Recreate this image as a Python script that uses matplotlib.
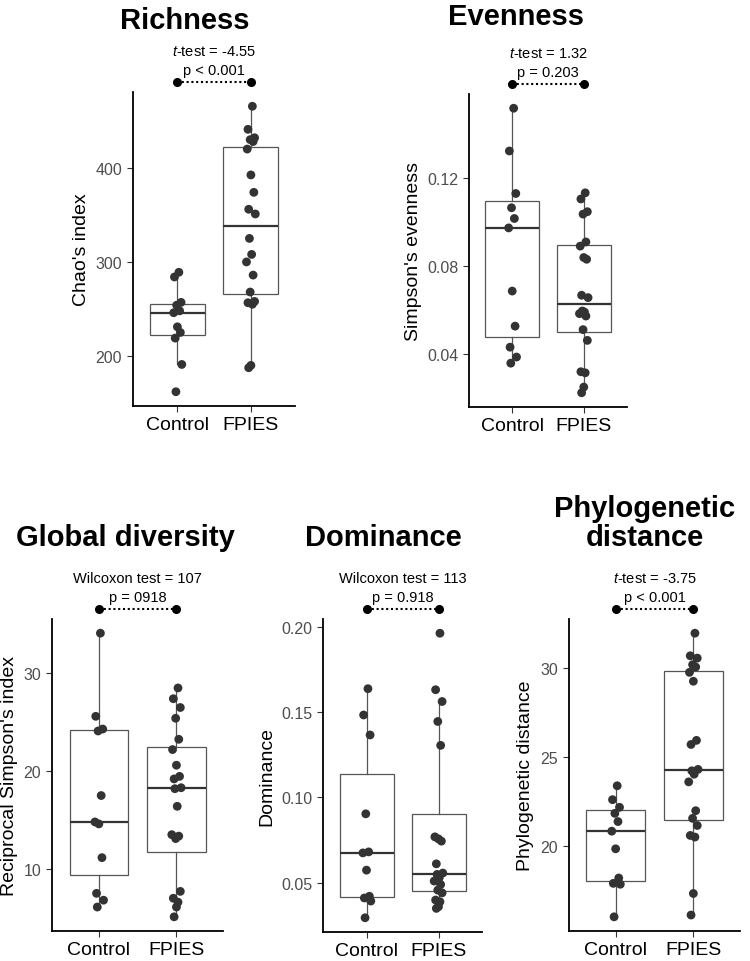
import matplotlib
matplotlib.use("Agg")
import matplotlib.pyplot as plt
import matplotlib.transforms as mtransforms
import numpy as np

plt.rcParams['font.family'] = ['Liberation Sans', 'DejaVu Sans']
plt.rcParams['mathtext.fontset'] = 'custom'
plt.rcParams['mathtext.rm'] = 'Liberation Sans'
plt.rcParams['mathtext.it'] = 'Liberation Sans:italic'

# ---------------- data ----------------
groups = ["Control", "FPIES"]

richness_control = [289, 284, 257, 254, 248, 246, 231, 225, 219, 191, 162]
richness_fpies = [465.5, 441, 432, 430, 428, 420, 392.5, 374, 356, 351, 325, 308,
                  300, 286, 268, 258, 256.6, 255, 190, 187.5]

evenness_control = [0.152, 0.1325, 0.1131, 0.1066, 0.1017, 0.0974, 0.0686, 0.0526,
                    0.0430, 0.0385, 0.0357]
evenness_fpies = [0.1134, 0.1106, 0.1048, 0.1037, 0.0910, 0.0891, 0.0839, 0.0831,
                  0.0667, 0.0656, 0.0595, 0.0590, 0.0583, 0.0572, 0.0510, 0.0461,
                  0.0318, 0.0313, 0.0248, 0.0222]

recip_control = [34.1, 25.6, 24.3, 24.1, 17.5, 14.8, 14.6, 11.15, 7.5, 6.8, 6.1]
recip_fpies = [28.5, 27.4, 26.5, 25.4, 23.25, 22.2, 20.6, 19.46, 19.2, 18.3, 18.2,
               16.4, 13.5, 13.35, 13.1, 7.7, 7.0, 6.6, 6.1, 5.1]

dominance_control = [0.1636, 0.1482, 0.1365, 0.0903, 0.0680, 0.0674, 0.0573, 0.0420,
                     0.0410, 0.0392, 0.0294]
dominance_fpies = [0.1961, 0.1630, 0.1561, 0.1444, 0.1304, 0.0768, 0.0756, 0.0743,
                   0.0610, 0.0556, 0.0548, 0.0528, 0.0509, 0.0489, 0.0456, 0.0440,
                   0.0398, 0.0388, 0.0359, 0.0349]

phylo_control = [23.38, 22.6, 22.17, 21.83, 21.37, 20.83, 19.84, 18.2, 17.9, 17.85, 16.02]
phylo_fpies = [31.95, 30.68, 30.55, 30.18, 30.05, 29.75, 29.25, 25.93, 25.7, 24.3,
               24.22, 24.03, 23.6, 21.98, 21.55, 21.15, 20.59, 20.5, 17.33, 16.12]

titles = ["Richness", "Evenness", "Global diversity", "Dominance", "Phylogenetic\ndistance"]
ylabels = ["Chao's index", "Simpson's evenness", "Reciprocal Simpson's index",
           "Dominance", "Phylogenetic distance"]
stat_lines = [r"$\mathit{t}$-test = -4.55", r"$\mathit{t}$-test = 1.32",
              "Wilcoxon test = 107", "Wilcoxon test = 113", r"$\mathit{t}$-test = -3.75"]
p_lines = ["p < 0.001", "p = 0.203", "p = 0918", "p = 0.918", "p < 0.001"]
yticks = [[200, 300, 400], [0.04, 0.08, 0.12], [10, 20, 30],
          [0.05, 0.10, 0.15, 0.20], [20, 25, 30]]
ytick_labels = [["200", "300", "400"], ["0.04", "0.08", "0.12"], ["10", "20", "30"],
                ["0.05", "0.10", "0.15", "0.20"], ["20", "25", "30"]]

# fixed horizontal jitter pattern (positions only)
JITTER = [0.02, -0.04, 0.05, -0.01, 0.03, -0.05, 0.0, 0.04, -0.03, 0.06,
          -0.02, 0.01, -0.06, 0.03, -0.01, 0.05, -0.04, 0.02, 0.0, -0.03]

datasets = [(richness_control, richness_fpies), (evenness_control, evenness_fpies),
            (recip_control, recip_fpies), (dominance_control, dominance_fpies),
            (phylo_control, phylo_fpies)]

# ---------------- layout (pixels) ----------------
W, H = 750, 962
fig = plt.figure(figsize=(W / 100, H / 100), dpi=100)
fig.patch.set_facecolor("white")

panels = [(133.3, 295, 93, 407), (469.3, 626.7, 95, 408), (52.3, 223, 620, 932),
          (323.3, 481.7, 620, 933), (569, 740, 620, 932)]
# (center x, baseline y) of titles in pixels
title_pos = [(185, 29), (516, 25), (125, 546), (383, 546), (645, 546)]
ylabel_x = [81, 413, 10, 267, 525]

box_col = "#555555"
pt_col = "#333333"

for i, ((x0, x1, yt, yb), (ctrl, fp)) in enumerate(zip(panels, datasets)):
    ax = fig.add_axes([x0 / W, 1 - yb / H, (x1 - x0) / W, (yb - yt) / H])
    ax.boxplot([ctrl, fp], positions=[1, 2], widths=0.75, showfliers=False,
               whis=1.5, patch_artist=True, showcaps=False,
               boxprops=dict(facecolor="white", edgecolor=box_col, linewidth=0.9),
               whiskerprops=dict(color=box_col, linewidth=0.9),
               medianprops=dict(color="#333333", linewidth=1.6), zorder=2)
    for g, vals in enumerate([ctrl, fp]):
        xs = [g + 1 + JITTER[k] for k in range(len(vals))]
        ax.scatter(xs, vals, s=40, color=pt_col, edgecolors="none", zorder=3)
    allv = list(ctrl) + list(fp)
    lo, hi = min(allv), max(allv)
    pad = 0.05 * (hi - lo)
    ax.set_ylim(lo - pad, hi + pad)
    ax.set_xlim(0.4, 2.6)
    ax.set_xticks([1, 2])
    ax.set_xticklabels(groups)
    ax.set_yticks(yticks[i])
    ax.set_yticklabels(ytick_labels[i])
    for s in ["top", "right"]:
        ax.spines[s].set_visible(False)
    for s in ["left", "bottom"]:
        ax.spines[s].set_linewidth(1.3)
        ax.spines[s].set_color("black")
    ax.tick_params(axis="y", length=4, width=0.8, color="#333333", pad=4,
                   labelsize=11.5, labelcolor="#4D4D4D")
    ax.tick_params(axis="x", length=4, width=0.8, color="#333333", pad=3,
                   labelsize=14, labelcolor="black")
    ax.set_facecolor("white")

    # significance bracket above the panel
    trans = mtransforms.blended_transform_factory(ax.transData, ax.transAxes)
    off = mtransforms.ScaledTranslation(0, 10 / 100, fig.dpi_scale_trans)
    ax.plot([1, 2], [1, 1], transform=trans + off, clip_on=False, color="black",
            linestyle=(0, (1, 1.3)), linewidth=1.5, marker="o", markersize=5.5,
            zorder=5)
    off2 = mtransforms.ScaledTranslation(0, 22 / 100, fig.dpi_scale_trans)
    ax.text(1.5, 1, p_lines[i], transform=trans + off2, ha="center", va="center",
            fontsize=10.5, color="black")
    off3 = mtransforms.ScaledTranslation(0, 41 / 100, fig.dpi_scale_trans)
    ax.text(1.5, 1, stat_lines[i], transform=trans + off3, ha="center", va="center",
            fontsize=10.5, color="black")

    # y label
    fig.text(ylabel_x[i] / W, 1 - (yt + yb) / 2 / H, ylabels[i], rotation=90,
             ha="center", va="center", fontsize=14, color="black")
    # title (bottom-anchored at baseline so multi-line titles grow upward)
    tx, ty = title_pos[i]
    fig.text(tx / W, 1 - ty / H, titles[i], ha="center", va="baseline",
             fontsize=21, fontweight="bold", color="black", linespacing=1.05,
             multialignment="center")

fig.savefig("out.png", dpi=100, facecolor="white")
